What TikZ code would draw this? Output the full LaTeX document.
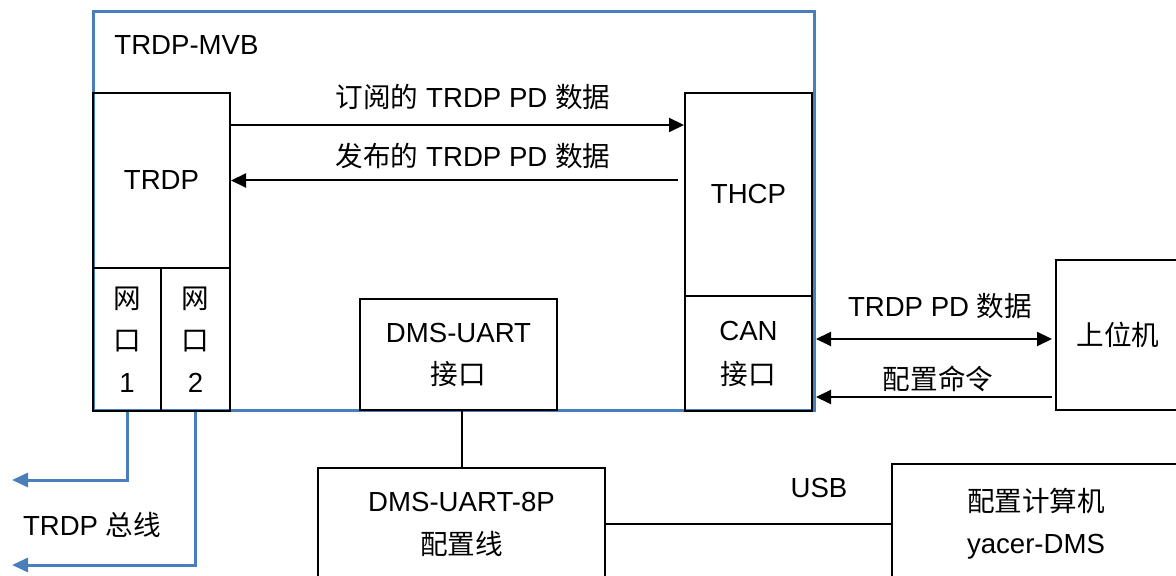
\documentclass[tikz,border=0pt]{standalone}
\usepackage{fontspec}
\setmainfont{Liberation Sans}
\newfontfamily\cjk{Noto Sans CJK SC}
\usetikzlibrary{arrows.meta}

\begin{document}
\begin{tikzpicture}[x=0.5pt, y=-0.5pt,
    font=\fontsize{13.8}{16.5}\selectfont,
    box/.style={draw=borderColour, line width=1pt, align=center, inner sep=0pt},
    arr/.style={draw=borderColour, line width=1pt, -{Triangle[length=7.5pt,width=7pt]}},
    dblArr/.style={draw=borderColour, line width=1pt, {Triangle[length=7.5pt,width=7pt]}-{Triangle[length=7.5pt,width=7pt]}},
    busLine/.style={draw=busColour, line width=1.5pt, -{Triangle[length=8pt,width=7pt]}}]
    \definecolor{borderColour}{HTML}{000000}
    \definecolor{busColour}{HTML}{4A7EBB}

    \useasboundingbox (0,0) rectangle (1176,576);

    % TRDP-MVB frame
    \node[draw=busColour, line width=1.5pt, minimum width=360.5pt, minimum height=199.5pt] (mvb) at (453.5,211.5) {};
    \node[anchor=west, inner sep=0pt] (mvbLabel) at (114,45) {TRDP-MVB};

    \node[box, minimum width=68.5pt, minimum height=87.5pt] (trdp) at (161.5,180.5) {TRDP};
    \node[box, minimum width=34pt, minimum height=71.5pt] (port1) at (127,339.5) {{\cjk 网}\\[4.5pt]{\cjk 口}\\[4.5pt]1};
    \node[box, minimum width=34.5pt, minimum height=71.5pt] (port2) at (195.5,339.5) {{\cjk 网}\\[4.5pt]{\cjk 口}\\[4.5pt]2};
    \node[box, minimum width=63.5pt, minimum height=101.5pt] (thcp) at (748.5,194.5) {THCP};
    \node[box, minimum width=63.5pt, minimum height=57.5pt] (can) at (748.5,353.5) {CAN\\[5.5pt]{\cjk 接口}};
    \node[box, minimum width=98.5pt, minimum height=55.5pt] (uart) at (458.5,354.5) {DMS-UART\\[4.5pt]{\cjk 接口}};

    % outside devices
    \node[box, minimum width=62pt, minimum height=75pt] (host) at (1118,335) {\cjk 上位机};
    \node[box, minimum width=143.5pt, minimum height=56pt] (cable) at (461.5,524) {DMS-UART-8P\\[5pt]{\cjk 配置线}};
    \node[box, minimum width=144pt, minimum height=60pt] (pc) at (1036,524) {{\cjk 配置计算机}\\[4.5pt]yacer-DMS};

    % TRDP <-> THCP
    \coordinate (subIn) at ([yshift=27.75pt]trdp.east);
    \coordinate (pubOut) at (thcp.west |- trdp.east);
    \draw[arr] (subIn) -- (subIn -| thcp.west);
    \draw[arr] ([xshift=-3pt]pubOut) -- (trdp.east);
    \node (subLabel) at (473,97) {{\cjk 订阅的} TRDP PD {\cjk 数据}};
    \node (pubLabel) at (473,156) {{\cjk 发布的} TRDP PD {\cjk 数据}};

    % CAN <-> host
    \coordinate (pdIn) at ([yshift=-2pt]host.west);
    \coordinate (pdOut) at (pdIn -| can.east);
    \coordinate (cmdIn) at ([yshift=-31pt]host.west);
    \coordinate (cmdOut) at (cmdIn -| can.east);
    \draw[dblArr] ([xshift=1.5pt]pdOut) -- ([xshift=-1.5pt]pdIn);
    \draw[arr] ([xshift=-1.5pt]cmdIn) -- ([xshift=1.5pt]cmdOut);
    \node (pdLabel) at (940,306) {TRDP PD {\cjk 数据}};
    \node (cmdLabel) at (938,379) {\cjk 配置命令};

    % config line
    \draw[borderColour, line width=1pt] ([xshift=1.75pt]uart.south) -- ([xshift=1.75pt]uart.south |- cable.north);
    \draw[borderColour, line width=1pt] (cable.east) -- (cable.east -| pc.west);
    \node (usbLabel) at (819,488) {USB};

    % TRDP bus
    \coordinate (bus1) at (12,480);
    \coordinate (bus2) at (12,565);
    \draw[busLine] (port1.south) |- (bus1);
    \draw[busLine] (port2.south) |- (bus2);
    \node (busLabel) at (92,525) {TRDP {\cjk 总线}};

\end{tikzpicture}
\end{document}
